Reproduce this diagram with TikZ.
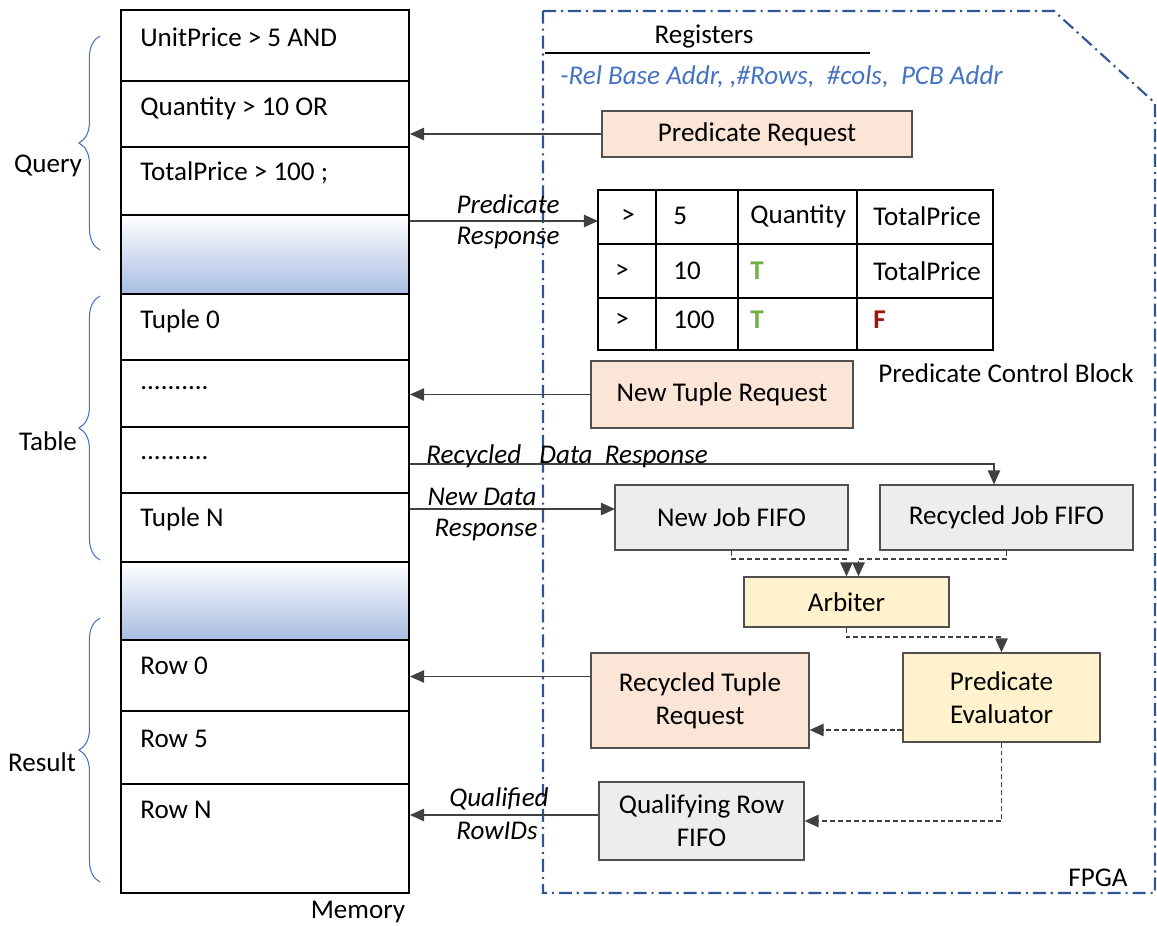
\documentclass[tikz,border=0pt]{standalone}
\usepackage{fontspec}
\setmainfont{Carlito}
\usetikzlibrary{arrows.meta, positioning, fit, decorations.pathreplacing}
\definecolor{reqpeach}{RGB}{251, 229, 214}
\definecolor{fifogray}{RGB}{237, 237, 237}
\definecolor{ctlyellow}{RGB}{255, 242, 204}
\definecolor{boxline}{RGB}{80, 80, 80}
\definecolor{arrowgray}{RGB}{64, 64, 64}
\definecolor{regblue}{RGB}{68, 114, 196}
\definecolor{fpgablue}{RGB}{47, 85, 151}
\definecolor{shadeblue}{RGB}{168, 189, 226}
\definecolor{truegreen}{RGB}{112, 173, 71}
\definecolor{falsered}{RGB}{160, 20, 10}
\newcommand{\diagfont}{\fontsize{15.4}{19}\selectfont}

\begin{document}
\begin{tikzpicture}[x=0.02cm, y=-0.02cm, font=\diagfont,
  cell/.style={anchor=west, inner sep=0pt},
  memline/.style={line width=1.1pt},
  reqbox/.style={draw=boxline, fill=reqpeach, line width=0.7pt, inner sep=0pt, align=center},
  fifobox/.style={draw=boxline, fill=fifogray, line width=0.7pt, inner sep=0pt, align=center},
  ctlbox/.style={draw=boxline, fill=ctlyellow, line width=0.7pt, inner sep=0pt, align=center},
  flow/.style={-{Triangle[length=8pt, width=7pt]}, draw=arrowgray, line width=0.9pt},
  dflow/.style={flow, line width=1.1pt, dash pattern=on 2.8pt off 1.7pt},
  lbl/.style={font=\diagfont\itshape, inner sep=0pt},
  grp/.style={decorate, decoration={brace, amplitude=12pt}, draw=regblue, line width=0.6pt}]
  \useasboundingbox (0,0) rectangle (1157,926);

  % FPGA outline
  \draw[fpgablue, line width=1.2pt, dash pattern=on 7.4pt off 2.8pt on 1.2pt off 2.8pt]
    (543,11) -- (1054,11) -- (1155,103) -- (1155,893) -- (543,893) -- cycle;
  \node (fpga) at (1098,878) {FPGA};

  % Memory column
  \shade[top color=white, bottom color=shadeblue] (121,215) rectangle (409,294);
  \shade[top color=white, bottom color=shadeblue] (121,562) rectangle (409,640);
  \node[draw, memline, inner sep=0pt, fit={(121,10) (409,893)}] (mem) {};
  \foreach \y in {81,147,215,294,360,427,493,562,640,711,784}
    \draw[memline] (121,\y) -- (409,\y);
  \node (memlbl) at (358,912) {Memory};

  \node[cell] (q1) at (140,37) {UnitPrice > 5 AND};
  \node[cell] (q2) at (140,108) {Quantity > 10 OR};
  \node[cell] (q3) at (140,173) {TotalPrice > 100 ;};
  \node[cell] (t0) at (140,321) {Tuple 0};
  \node[cell] (t1) at (140,388) {..........};
  \node[cell] (t2) at (140,458) {..........};
  \node[cell] (tn) at (140,519) {Tuple N};
  \node[cell] (r0) at (140,666) {Row 0};
  \node[cell] (r5) at (140,739) {Row 5};
  \node[cell] (rn) at (140,810) {Row N};

  % Groups on the left
  \draw[grp] (100,250) -- (100,36);
  \node (querylbl) at (48,166) {Query};
  \draw[grp] (100,560) -- (100,296);
  \node (tablelbl) at (48,441) {Table};
  \draw[grp] (100,882) -- (100,618);
  \node (resultlbl) at (42,762) {Result};

  % Registers
  \node (reg) at (704,37) {Registers};
  \draw[line width=1pt] (545,53) -- (870,53);
  \node[lbl, text=regblue, anchor=west] (regs) at (560,77)
    {-Rel Base Addr, ,\#Rows,\ \ \#cols,\ \ PCB Addr};

  % Predicate request
  \node[reqbox, minimum width=6.2cm, minimum height=0.92cm] (preq) at (757,134) {Predicate Request};
  \draw[flow] (preq.west) -- (preq.west -| mem.east);

  % Predicate control block
  \node[draw, memline, inner sep=0pt, fit={(598,190) (993,350)}] (pcb) {};
  \foreach \x in {656,738,857}
    \draw[memline] (\x,190) -- (\x,350);
  \foreach \y in {244,298}
    \draw[memline] (598,\y) -- (993,\y);
  \node (c11) at (628,216) {>};
  \node[cell] (c12) at (673,216) {5};
  \node[cell] (c13) at (750,216) {Quantity};
  \node[cell] (c14) at (873,216) {TotalPrice};
  \node (c21) at (622,271) {>};
  \node[cell] (c22) at (673,271) {10};
  \node[cell, text=truegreen, font=\diagfont\bfseries] (c23) at (750,271) {T};
  \node[cell] (c24) at (873,271) {TotalPrice};
  \node (c31) at (622,320) {>};
  \node[cell] (c32) at (673,320) {100};
  \node[cell, text=truegreen, font=\diagfont\bfseries] (c33) at (750,320) {T};
  \node[cell, text=falsered, font=\diagfont\bfseries] (c34) at (873,320) {F};
  \node (pcblbl) at (1006,373) {Predicate Control Block};

  \coordinate (presp) at (598,221);
  \draw[flow] (presp -| mem.east) -- (presp);
  \node[lbl] (presp1) at (508,204) {Predicate};
  \node[lbl] (presp2) at (508,238) {Response};

  % Tuple requests and responses
  \node[reqbox, minimum width=5.24cm, minimum height=1.34cm] (ntr) at (722,394.5) {New Tuple Request};
  \draw[flow] (ntr.west) -- (ntr.west -| mem.east);

  \node[fifobox, minimum width=4.66cm, minimum height=1.3cm] (njf) at (731.5,517.5) {New Job FIFO};
  \node[fifobox, minimum width=5.06cm, minimum height=1.3cm] (rjf) at (1006.5,517.5) {Recycled Job FIFO};

  \coordinate (rdr) at (994,464);
  \draw[flow] (rdr -| mem.east) -- (rdr) -- (rdr |- rjf.north);
  \node[lbl, anchor=west] (rdrlbl) at (426,456) {Recycled\ \ \ Data\ \ Response};

  \coordinate (ndr) at (615,509);
  \draw[flow] (ndr -| mem.east) -- (ndr);
  \node[lbl] (ndr1) at (482,497) {New Data};
  \node[lbl] (ndr2) at (486,530) {Response};

  % Arbiter and evaluator
  \node[ctlbox, minimum width=4.1cm, minimum height=1cm] (arb) at (846.5,602) {Arbiter};
  \draw[dflow] (njf.south) -- ++(0,8) -| (arb.north);
  \draw[dflow] (rjf.south) -- ++(0,8) -| ([xshift=0.24cm]arb.north);

  \node[ctlbox, minimum width=3.94cm, minimum height=1.78cm] (pe) at (1001.5,697.5) {Predicate\\Evaluator};
  \draw[dflow] (arb.south) -- ++(0,9) -| (pe.north);

  \node[reqbox, minimum width=4.36cm, minimum height=1.9cm] (rtr) at (700,700.5) {Recycled Tuple\\Request};
  \draw[dflow] ([yshift=-0.65cm]pe.west) -- ([yshift=-0.65cm]pe.west -| rtr.east);
  \draw[flow] ([yshift=0.48cm]rtr.west) -- ([yshift=0.48cm]rtr.west -| mem.east);

  % Qualifying rows
  \node[fifobox, minimum width=4.1cm, minimum height=1.56cm] (qrf) at (701.5,821) {Qualifying Row\\FIFO};
  \draw[dflow] (pe.south) |- (qrf.east);
  \draw[flow] ([yshift=0.12cm]qrf.west) -- ([yshift=0.12cm]qrf.west -| mem.east);
  \node[lbl] (qr1) at (499,799) {Qualified};
  \node[lbl] (qr2) at (497,831) {RowIDs};
\end{tikzpicture}
\end{document}
